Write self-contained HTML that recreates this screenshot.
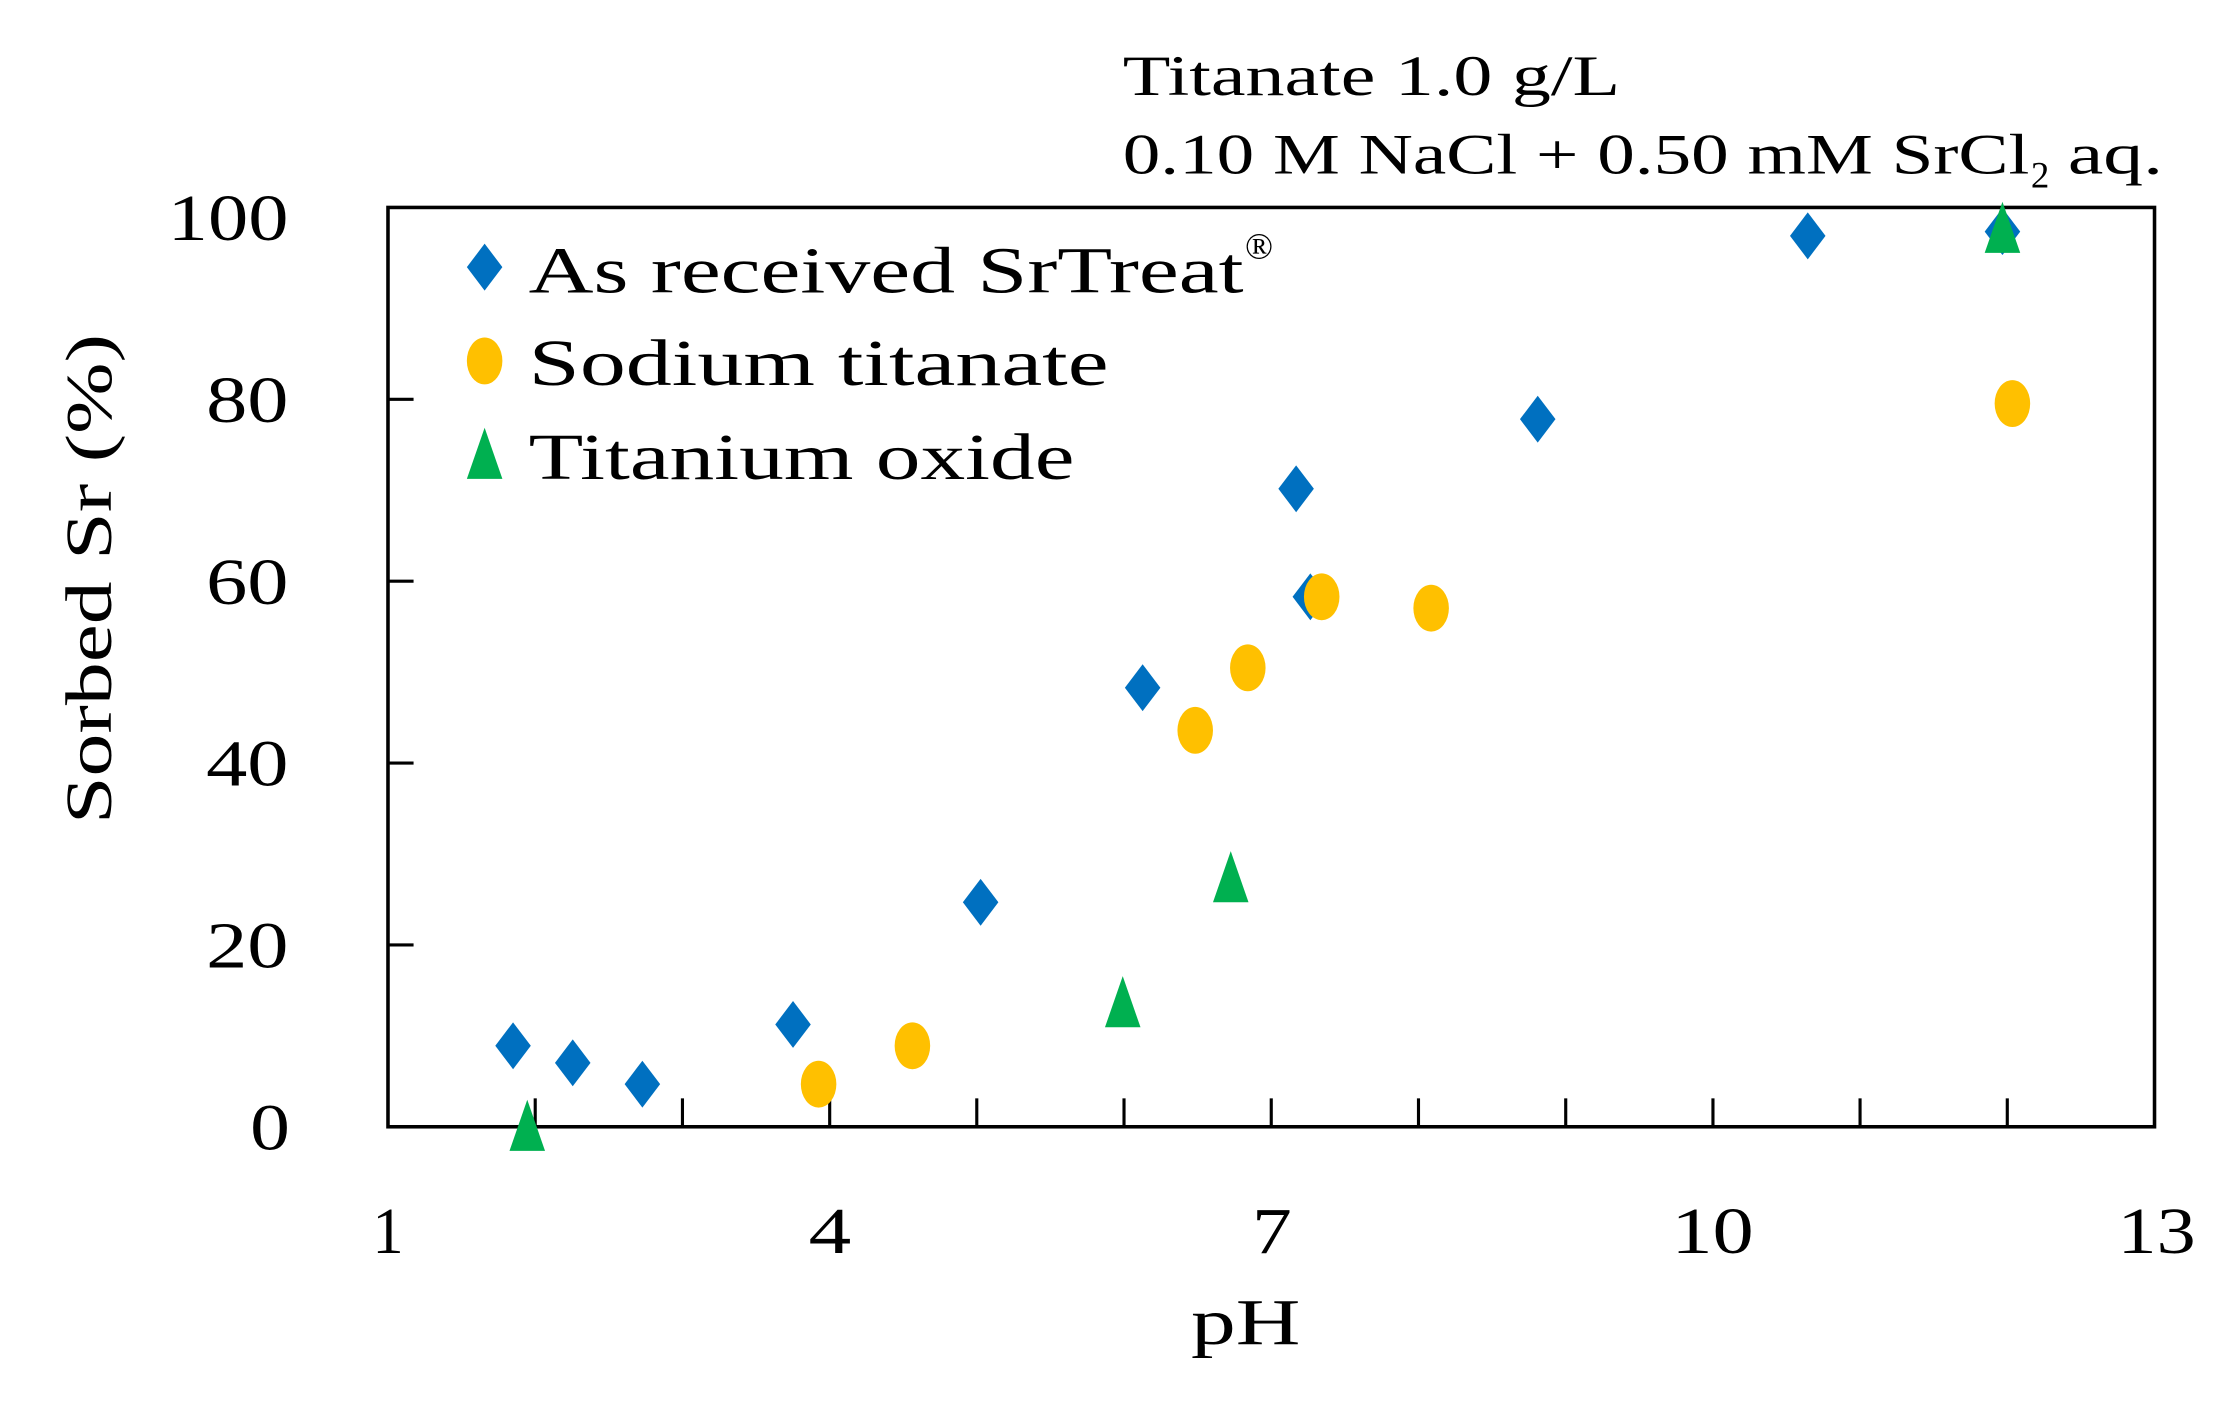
<!DOCTYPE html>
<html><head><meta charset="utf-8"><style>
html,body{margin:0;padding:0;background:#fff;}
svg{display:block;}
text{font-family:"Liberation Serif","DejaVu Serif",serif;fill:#000;}
</style></head><body>
<svg width="2227" height="1401" viewBox="0 0 1567 986" preserveAspectRatio="none" xmlns="http://www.w3.org/2000/svg">
<defs>
<path id="d" d="M0,-16.5 L12.5,0 L0,16.5 L-12.5,0Z" fill="#0070C0"/>
<ellipse id="c" cx="0" cy="0" rx="12.5" ry="16.5" fill="#FFC000"/>
<path id="t" d="M0,-19 L12.5,17 L-12.5,17Z" fill="#00B050"/>
</defs>
<rect x="273" y="146" width="1243" height="647" fill="none" stroke="#000" stroke-width="2.5"/>
<g stroke="#000" stroke-width="2.2">
<line x1="376.6" y1="793" x2="376.6" y2="773"/><line x1="480.2" y1="793" x2="480.2" y2="773"/>
<line x1="583.8" y1="793" x2="583.8" y2="773"/><line x1="687.3" y1="793" x2="687.3" y2="773"/>
<line x1="790.9" y1="793" x2="790.9" y2="773"/><line x1="894.5" y1="793" x2="894.5" y2="773"/>
<line x1="998.1" y1="793" x2="998.1" y2="773"/><line x1="1101.7" y1="793" x2="1101.7" y2="773"/>
<line x1="1205.3" y1="793" x2="1205.3" y2="773"/><line x1="1308.8" y1="793" x2="1308.8" y2="773"/>
<line x1="1412.4" y1="793" x2="1412.4" y2="773"/>
<line x1="273" y1="665" x2="291" y2="665"/><line x1="273" y1="537" x2="291" y2="537"/>
<line x1="273" y1="409" x2="291" y2="409"/><line x1="273" y1="281" x2="291" y2="281"/>
</g>
<g font-size="46">
<text x="176" y="809" textLength="28" lengthAdjust="spacingAndGlyphs">0</text>
<text x="145" y="681" textLength="58" lengthAdjust="spacingAndGlyphs">20</text>
<text x="145" y="553" textLength="58" lengthAdjust="spacingAndGlyphs">40</text>
<text x="145" y="425" textLength="58" lengthAdjust="spacingAndGlyphs">60</text>
<text x="145" y="297" textLength="58" lengthAdjust="spacingAndGlyphs">80</text>
<text x="118" y="169" textLength="85" lengthAdjust="spacingAndGlyphs">100</text>
<text x="262" y="882" textLength="22" lengthAdjust="spacingAndGlyphs">1</text>
<text x="569" y="882" textLength="30" lengthAdjust="spacingAndGlyphs">4</text>
<text x="881" y="882" textLength="28" lengthAdjust="spacingAndGlyphs">7</text>
<text x="1176" y="882" textLength="58" lengthAdjust="spacingAndGlyphs">10</text>
<text x="1490" y="882" textLength="55" lengthAdjust="spacingAndGlyphs">13</text>
<text x="838" y="946" textLength="77" lengthAdjust="spacingAndGlyphs">pH</text>
</g>
<text transform="translate(78,580) rotate(-90)" font-size="46" textLength="345" lengthAdjust="spacingAndGlyphs">Sorbed Sr (%)</text>
<text x="790" y="67" font-size="40" textLength="350" lengthAdjust="spacingAndGlyphs">Titanate 1.0 g/L</text>
<text x="790" y="122" font-size="40" textLength="638" lengthAdjust="spacingAndGlyphs">0.10 M NaCl + 0.50 mM SrCl</text>
<text x="1429" y="132" font-size="26">2</text>
<text x="1455" y="122" font-size="40" textLength="67" lengthAdjust="spacingAndGlyphs">aq.</text>
<use href="#d" x="341" y="188"/><text x="372" y="206" font-size="46" textLength="503" lengthAdjust="spacingAndGlyphs">As received SrTreat</text>
<text x="876" y="182" font-size="26">®</text>
<use href="#c" x="341" y="254"/><text x="372" y="271" font-size="46" textLength="408" lengthAdjust="spacingAndGlyphs">Sodium titanate</text>
<use href="#t" x="341" y="320"/><text x="372" y="337" font-size="46" textLength="384" lengthAdjust="spacingAndGlyphs">Titanium oxide</text>
<use href="#d" x="361" y="736"/><use href="#d" x="403" y="748"/><use href="#d" x="452" y="763"/>
<use href="#d" x="558" y="721"/><use href="#d" x="690" y="635"/><use href="#d" x="804" y="484"/>
<use href="#d" x="912" y="344"/><use href="#d" x="922" y="420"/><use href="#d" x="1082" y="295"/>
<use href="#d" x="1272" y="166"/><use href="#d" x="1409" y="163"/>
<use href="#c" x="576" y="763"/><use href="#c" x="642" y="736"/><use href="#c" x="841" y="514"/>
<use href="#c" x="878" y="470"/><use href="#c" x="930" y="420"/><use href="#c" x="1007" y="428"/>
<use href="#c" x="1416" y="284"/>
<use href="#t" x="371" y="793"/><use href="#t" x="790" y="706"/><use href="#t" x="866" y="618"/>
<use href="#t" x="1409" y="161"/>
</svg>
</body></html>
